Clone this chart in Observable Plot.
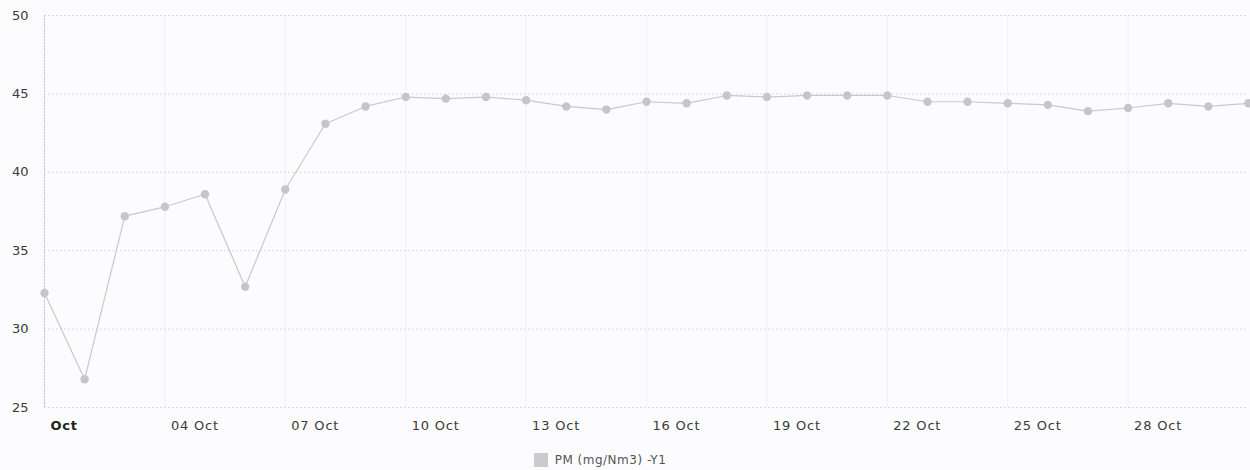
<!DOCTYPE html>
<html>
<head>
<meta charset="utf-8">
<script src="https://cdn.jsdelivr.net/npm/d3@7"></script>
<script src="https://cdn.jsdelivr.net/npm/@observablehq/plot@0.6"></script>
<style>
  html, body { margin: 0; padding: 0; background: #fcfcfe; }
  #chart svg { display: block; }
  #legend { height: 30px; display: flex; justify-content: center; align-items: center;
    font-family: "DejaVu Sans", sans-serif; font-size: 12px; color: #555; letter-spacing: 0.5px;
    padding-right: 50px; }
  #legend .sw { width: 14px; height: 14px; background: #cbcbcf; margin-right: 7px; }
</style>
</head>
<body>
<div id="chart"></div>
<div id="legend"><span class="sw"></span><span>PM (mg/Nm3) -Y1</span></div>
<script>
const dates = ["2023-10-01","2023-10-02","2023-10-03","2023-10-04","2023-10-05","2023-10-06","2023-10-07","2023-10-08","2023-10-09","2023-10-10",
  "2023-10-11","2023-10-12","2023-10-13","2023-10-14","2023-10-15","2023-10-16","2023-10-17","2023-10-18","2023-10-19","2023-10-20",
  "2023-10-21","2023-10-22","2023-10-23","2023-10-24","2023-10-25","2023-10-26","2023-10-27","2023-10-28","2023-10-29","2023-10-30","2023-10-31"];
const pmValues = [32.3, 26.8, 37.2, 37.8, 38.6, 32.7, 38.9, 43.1, 44.2, 44.8,
  44.7, 44.8, 44.6, 44.2, 44.0, 44.5, 44.4, 44.9, 44.8, 44.9,
  44.9, 44.9, 44.5, 44.5, 44.4, 44.3, 43.9, 44.1, 44.4, 44.2, 44.4];
const xTickDates = ["2023-10-01","2023-10-04","2023-10-07","2023-10-10","2023-10-13","2023-10-16","2023-10-19","2023-10-22","2023-10-25","2023-10-28"];
const xTickLabels = ["Oct","04 Oct","07 Oct","10 Oct","13 Oct","16 Oct","19 Oct","22 Oct","25 Oct","28 Oct"];
const yTicks = [25, 30, 35, 40, 45, 50];

const data = dates.map((d, i) => ({date: new Date(d), value: pmValues[i]}));
const tickDates = xTickDates.map(d => new Date(d));
const labelByTime = new Map(tickDates.map((d, i) => [d.getTime(), xTickLabels[i]]));

const chart = Plot.plot({
  width: 1250,
  height: 445,
  marginLeft: 44,
  marginRight: 2,
  marginTop: 15,
  marginBottom: 38,
  style: {background: "transparent", fontFamily: "DejaVu Sans, sans-serif", fontSize: "13px", color: "#3a3a3a"},
  x: {type: "utc", domain: [new Date(dates[0]), new Date(dates[dates.length - 1])]},
  y: {domain: [25, 50]},
  marks: [
    Plot.gridX(tickDates, {stroke: "#f0f0f5", strokeOpacity: 1}),
    Plot.gridY(yTicks, {stroke: "#d2d2d6", strokeOpacity: 1, strokeDasharray: "1.5,2.5"}),
    Plot.ruleX([new Date(dates[0])], {stroke: "#c4c4c8", strokeDasharray: "2,1"}),
    Plot.axisY(yTicks, {tickSize: 0, tickPadding: 16, label: null}),
    Plot.axisX(tickDates, {tickSize: 0, tickPadding: 13, textAnchor: "start", dx: 6, label: null,
      tickFormat: d => labelByTime.get(d.getTime())}),
    Plot.line(data, {x: "date", y: "value", stroke: "#c9c9cd", strokeWidth: 1.2}),
    Plot.dot(data, {x: "date", y: "value", r: 4.2, fill: "#c6c6ca", stroke: "none"})
  ]
});
document.getElementById("chart").appendChild(chart);

// bold month label on the first x tick
d3.select(chart).selectAll("[aria-label='x-axis tick label'] text")
  .each(function() { if (this.textContent === "Oct") { d3.select(this).attr("font-weight", "bold").attr("fill", "#222"); } })
  .attr("letter-spacing", "0.8px");
</script>
</body>
</html>
